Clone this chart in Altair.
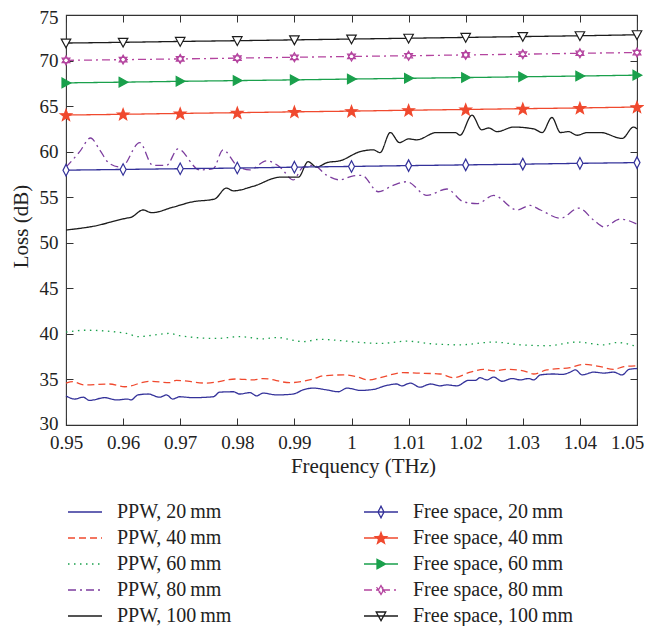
import math
import re
import altair as alt
import pandas as pd

# ---------------- data ----------------
ppw20_f = [0.95, 0.9515, 0.953, 0.9541, 0.9568, 0.9588, 0.9608, 0.9614, 0.9626, 0.9644,
           0.9664, 0.9676, 0.9687, 0.9699, 0.9722, 0.9758, 0.9769, 0.9793, 0.9804, 0.9822,
           0.9834, 0.9845, 0.9869, 0.9898, 0.9915, 0.9933, 0.9957, 0.9977, 0.9992, 1.0015,
           1.0038, 1.0059, 1.0079, 1.0088, 1.0103, 1.012, 1.0138, 1.0155, 1.0167, 1.0185,
           1.0205, 1.0217, 1.0225, 1.0237, 1.0249, 1.0264, 1.0281, 1.0296, 1.031, 1.0319,
           1.0331, 1.0354, 1.0369, 1.0383, 1.0392, 1.0404, 1.0424, 1.0442, 1.0459, 1.0474,
           1.0486, 1.05]
ppw20_l = [33.2, 32.85, 33.05, 32.7, 33.0, 32.75, 32.85, 32.75, 33.3, 33.4,
           33.05, 33.3, 32.85, 33.1, 33.0, 33.1, 33.6, 33.65, 33.4, 33.55,
           33.2, 33.5, 33.3, 33.4, 33.85, 34.05, 33.85, 33.65, 34.05, 33.8,
           33.9, 34.3, 34.5, 34.3, 34.6, 34.15, 34.5, 34.3, 34.4, 34.3,
           34.9, 34.9, 35.2, 34.95, 35.25, 34.8, 35.1, 34.95, 35.1, 34.95,
           35.5, 35.6, 35.55, 35.8, 36.05, 35.5, 35.8, 35.7, 35.8, 35.5,
           36.1, 36.2]

ppw40_f = [0.95, 0.9512, 0.9532, 0.9576, 0.9603, 0.9646, 0.9682, 0.9693, 0.9746, 0.9799,
           0.9828, 0.9845, 0.9892, 0.9933, 0.9951, 0.9986, 1.0009, 1.0029, 1.005, 1.0091,
           1.0114, 1.0155, 1.0179, 1.0208, 1.0231, 1.0249, 1.0272, 1.0301, 1.0319, 1.0342,
           1.0383, 1.0406, 1.0436, 1.0459, 1.0477, 1.05]
ppw40_l = [34.6, 34.75, 34.4, 34.5, 34.2, 34.8, 34.65, 34.9, 34.6, 35.05,
           34.95, 35.1, 34.65, 35.05, 35.4, 35.5, 35.3, 34.95, 35.2, 35.75,
           35.7, 35.6, 35.2, 35.8, 36.1, 35.95, 36.1, 35.95, 35.6, 36.05,
           36.3, 36.65, 36.4, 36.1, 36.4, 36.5]

ppw60_f = [0.95, 0.9535, 0.9606, 0.9626, 0.9682, 0.9699, 0.9764, 0.9804, 0.9845, 0.9869,
           0.9915, 0.9945, 0.9974, 1.0009, 1.005, 1.0097, 1.0143, 1.019, 1.0249, 1.0296,
           1.0342, 1.0395, 1.0442, 1.0465, 1.05]
ppw60_l = [40.2, 40.4, 40.05, 39.7, 40.05, 39.8, 39.5, 39.7, 39.45, 39.6,
           39.15, 39.4, 39.3, 39.1, 38.95, 39.2, 38.9, 38.8, 39.1, 38.8,
           38.7, 39.1, 38.8, 39.05, 38.6]

ppw80_f = [0.95, 0.9524, 0.9543, 0.9559, 0.9576, 0.9597, 0.9629, 0.9652, 0.9676, 0.9696,
           0.9734, 0.9758, 0.9775, 0.9799, 0.9822, 0.9851, 0.9875, 0.9898, 0.9915, 0.9933,
           0.9957, 0.998, 1.0, 1.0018, 1.0047, 1.0073, 1.0097, 1.0132, 1.0167, 1.0196,
           1.022, 1.0249, 1.029, 1.0313, 1.0331, 1.0366, 1.0398, 1.0424, 1.0442, 1.0471,
           1.05]
ppw80_l = [58.3, 60.0, 61.5, 60.2, 58.7, 58.3, 61.0, 58.5, 58.5, 60.3,
           58.0, 58.15, 60.2, 58.5, 58.0, 59.0, 58.3, 56.9, 58.3, 58.5,
           57.4, 56.9, 57.3, 57.4, 55.6, 56.3, 56.7, 55.2, 55.9, 54.5,
           54.3, 55.2, 53.6, 54.1, 53.6, 52.7, 53.8, 52.5, 51.75, 52.6,
           52.05]

ppw100_f = [0.95, 0.9547, 0.9606, 0.9614, 0.9635, 0.965, 0.9687, 0.9722, 0.976, 0.9781,
            0.9793, 0.9828, 0.9875, 0.9907, 0.9924, 0.9939, 0.9957, 0.998, 1.0015, 1.0038,
            1.005, 1.0068, 1.0084, 1.01, 1.0114, 1.0149, 1.0182, 1.019, 1.0211, 1.0228,
            1.024, 1.0255, 1.0284, 1.0319, 1.0334, 1.0351, 1.0366, 1.038, 1.0395, 1.0413,
            1.0436, 1.0474, 1.0494, 1.05]
ppw100_l = [51.4, 51.8, 52.7, 52.8, 53.6, 53.3, 53.9, 54.5, 54.8, 56.0,
            55.7, 56.2, 57.2, 57.2, 58.9, 58.3, 58.8, 59.0, 60.0, 60.2,
            59.9, 62.1, 61.0, 61.4, 61.3, 62.1, 62.1, 61.8, 64.0, 62.4,
            62.6, 62.2, 62.7, 62.5, 62.1, 63.75, 62.1, 62.2, 61.8, 62.1,
            62.1, 61.45, 62.7, 62.5]

fs_f = [0.95, 0.96, 0.97, 0.98, 0.99, 1.0, 1.01, 1.02, 1.03, 1.04, 1.05]
fs20_l = [57.97, 58.05, 58.13, 58.2, 58.3, 58.38, 58.47, 58.55, 58.63, 58.72, 58.8]
fs40_l = [64.02, 64.1, 64.2, 64.28, 64.37, 64.45, 64.55, 64.63, 64.72, 64.8, 64.9]
fs60_l = [67.55, 67.63, 67.72, 67.8, 67.88, 67.97, 68.05, 68.13, 68.22, 68.3, 68.4]
fs80_l = [70.02, 70.1, 70.18, 70.27, 70.36, 70.45, 70.53, 70.62, 70.7, 70.8, 70.88]
fs100_l = [71.92, 72.0, 72.1, 72.18, 72.27, 72.36, 72.45, 72.54, 72.63, 72.72, 72.83]

ppw_names = ["PPW, 20\u2009mm", "PPW, 40\u2009mm", "PPW, 60\u2009mm", "PPW, 80\u2009mm", "PPW, 100\u2009mm"]
fs_names = ["Free space, 20\u2009mm", "Free space, 40\u2009mm", "Free space, 60\u2009mm",
            "Free space, 80\u2009mm", "Free space, 100\u2009mm"]

x_ticks = [0.95, 0.96, 0.97, 0.98, 0.99, 1.0, 1.01, 1.02, 1.03, 1.04, 1.05]
y_ticks = [30, 35, 40, 45, 50, 55, 60, 65, 70, 75]

# ---------------- styles ----------------
FONT = "Liberation Serif"
ppw_colors = ["#34329a", "#f0492e", "#1aa04c", "#7c3d9e", "#1c1c1c"]
fs_colors = ["#34329a", "#f0492e", "#1aa04c", "#b4449f", "#1c1c1c"]
ppw_dash = [[1, 0], [7, 4], [1.5, 4.5], [8, 4, 2, 4], [1, 0]]
fs_dash = [[1, 0], [1, 0], [1, 0], [8, 4, 2, 4], [1, 0]]
fs_fill = ["white", "#f0492e", "#1aa04c", "white", "white"]


def star(ro, ri):
    pts = []
    for k in range(10):
        a = math.radians(-90 + 36 * k)
        r = ro if k % 2 == 0 else ri
        pts.append(f"{r * math.cos(a):.3f},{r * math.sin(a) + 0.1:.3f}")
    return "M" + "L".join(pts) + "Z"


def hexagram(r):
    a = [(r * math.cos(math.radians(t)), r * math.sin(math.radians(t))) for t in (-90, 30, 150)]
    b = [(-x, -y) for x, y in a]
    f = lambda P: "M" + "L".join(f"{x:.3f},{y:.3f}" for x, y in P) + "Z"
    return f(a) + f(b)


markers = [
    "M0,-1.15L0.6,0L0,1.15L-0.6,0Z",
    star(1.2, 0.5),
    "M-0.8,-0.95L0.95,0L-0.8,0.95Z",
    hexagram(0.9),
    "M-0.95,-0.8L0.95,-0.8L0,0.95Z",
]


def scale_path(p, k):
    return re.sub(r"-?\d+\.?\d*", lambda m: f"{float(m.group()) * k:.3f}", p)


LINE = "M-1.7,0L1.7,0"
legend_paths = {n: LINE + scale_path(m, 0.5) for n, m in zip(fs_names, markers)}
legend_fills = {n: c for n, c in zip(fs_names, fs_fill)}


def nested(mapping, default):
    expr = f"'{default}'"
    for k, v in reversed(list(mapping.items())):
        expr = f"datum.value === '{k}' ? '{v}' : ({expr})"
    return expr


shape_expr = nested(legend_paths, LINE)
fill_expr = nested(legend_fills, "transparent")

# ---------------- table ----------------
rows = []
for name, fl, ll in zip(ppw_names, [ppw20_f, ppw40_f, ppw60_f, ppw80_f, ppw100_f],
                        [ppw20_l, ppw40_l, ppw60_l, ppw80_l, ppw100_l]):
    assert len(fl) == len(ll)
    rows += [dict(series=name, kind="PPW", f=f, loss=l) for f, l in zip(fl, ll)]
for name, ll in zip(fs_names, [fs20_l, fs40_l, fs60_l, fs80_l, fs100_l]):
    rows += [dict(series=name, kind="FS", f=f, loss=l) for f, l in zip(fs_f, ll)]
df = pd.DataFrame(rows)

# legend fills column by column: PPW entries first, then free-space entries
order = ppw_names + fs_names
colors = ppw_colors + fs_colors
dashes = ppw_dash + fs_dash

color_scale = alt.Scale(domain=order, range=colors)
dash_scale = alt.Scale(domain=order, range=dashes)
xs = alt.Scale(domain=[0.95, 1.05], nice=False, zero=False)
ys = alt.Scale(domain=[30, 75], nice=False, zero=False)

legend = alt.Legend(
    title=None, orient="none", legendX=8, legendY=486, columns=2,
    columnPadding=129, rowPadding=5, padding=0,
    labelFont=FONT, labelFontSize=20, labelColor="#222", labelOffset=21, labelLimit=300,
    symbolSize=400, symbolStrokeWidth=1.3,
    symbolType={"expr": shape_expr},
    symbolFillColor={"expr": fill_expr},
)

ax_bottom = alt.Axis(values=x_ticks, format=".2~f", orient="bottom", offset=-7, tickSize=7,
                     domain=False, grid=False, labelFont=FONT, labelFontSize=19, labelColor="#222",
                     labelPadding=8, labelFlush=False, labelOverlap=False, tickColor="#333",
                     labelOffset={"condition": {"test": "datum.value > 1.049", "value": -10},
                                  "value": 0},
                     title="Frequency (THz)", titleFont=FONT, titleFontSize=21,
                     titleFontWeight="normal", titleColor="#222", titlePadding=3,
                     titleX=297, titleAlign="center")
ax_left = alt.Axis(values=y_ticks, orient="left", offset=-7, tickSize=7, domain=False, grid=False,
                   labelFont=FONT, labelFontSize=19, labelColor="#222", labelPadding=8,
                   labelFlush=False, labelOverlap=False, tickColor="#333",
                   labelOffset={"condition": [{"test": "datum.value > 74", "value": 2.5},
                                              {"test": "datum.value < 31", "value": -2}],
                                "value": 0},
                   title="Loss (dB)", titleFont=FONT, titleFontSize=21, titleFontWeight="normal",
                   titleColor="#222", titlePadding=8, titleY=211)
ax_top = alt.Axis(values=x_ticks, orient="top", offset=-7, tickSize=7, domain=False, grid=False,
                  labels=False, tickColor="#333", title=None)
ax_right = alt.Axis(values=y_ticks, orient="right", offset=-7, tickSize=7, domain=False, grid=False,
                    labels=False, tickColor="#333", title=None)

base = alt.Chart(df)

ppw_lines = base.transform_filter(alt.datum.kind == "PPW").mark_line(
    interpolate="monotone", strokeWidth=1.3).encode(
    x=alt.X("f:Q", scale=xs, axis=ax_bottom),
    y=alt.Y("loss:Q", scale=ys, axis=ax_left),
    color=alt.Color("series:N", scale=color_scale, legend=legend),
    strokeDash=alt.StrokeDash("series:N", scale=dash_scale, legend=legend),
)

fs_lines = base.transform_filter(alt.datum.kind == "FS").mark_line(strokeWidth=1.3).encode(
    x=alt.X("f:Q", scale=xs, axis=None),
    y=alt.Y("loss:Q", scale=ys, axis=None),
    color=alt.Color("series:N", scale=color_scale, legend=legend),
    strokeDash=alt.StrokeDash("series:N", scale=dash_scale, legend=legend),
)

fs_points = base.transform_filter(alt.datum.kind == "FS").mark_point(
    filled=True, size=100, strokeWidth=1.2, opacity=1).encode(
    x=alt.X("f:Q", scale=xs, axis=ax_top),
    y=alt.Y("loss:Q", scale=ys, axis=ax_right),
    shape=alt.Shape("series:N", scale=alt.Scale(domain=fs_names, range=markers), legend=None),
    stroke=alt.Stroke("series:N", scale=alt.Scale(domain=fs_names, range=fs_colors), legend=None),
    fill=alt.Fill("series:N", scale=alt.Scale(domain=fs_names, range=fs_fill), legend=None),
)

chart = alt.layer(ppw_lines, fs_lines, fs_points).resolve_axis(
    x="independent", y="independent"
).properties(
    width=571, height=410,
    autosize=alt.AutoSizeParams(type="none"),
    padding={"left": 58, "top": 7, "right": 7, "bottom": 201},
    background="white",
).configure_view(stroke="#333", strokeWidth=1.1)

chart.save("out.html", embed_options={"renderer": "svg", "actions": False})
